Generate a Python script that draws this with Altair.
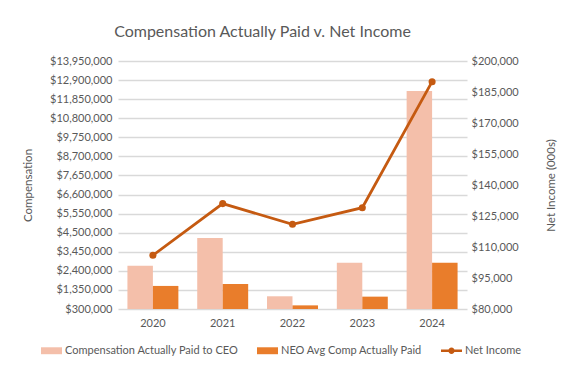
import altair as alt
import pandas as pd

years = ["2020", "2021", "2022", "2023", "2024"]
ceo_cap = [2680000, 4210000, 1000000, 2850000, 12300000]
neo_cap = [1570000, 1680000, 500000, 980000, 2850000]
net_income = [106000, 131000, 121000, 129000, 190000]

s_ceo = "Compensation Actually Paid to CEO"
s_neo = "NEO Avg Comp Actually Paid"
s_ni = "Net Income"

left_ticks = [300000 + 1050000 * i for i in range(14)]
right_ticks = [80000 + 15000 * i for i in range(9)]

bars = pd.DataFrame(
    [{"year": y, "series": s_ceo, "value": v} for y, v in zip(years, ceo_cap)]
    + [{"year": y, "series": s_neo, "value": v} for y, v in zip(years, neo_cap)]
)
line = pd.DataFrame({"year": years, "series": s_ni, "ni": net_income})

FONT = "Lato"
GRAY = "#595959"
color_scale = alt.Scale(domain=[s_ceo, s_neo, s_ni], range=["#F4BFAA", "#E97D2B", "#C55A11"])

shape_expr = ("datum.value === 'Net Income' ? "
              "'M-1,-0.12H1V0.12H-1Z M-0.3,0A0.3,0.3 0 1,1 0.3,0A0.3,0.3 0 1,1 -0.3,0Z' : "
              "'M-1,-0.33H1V0.33H-1Z'")

legend = alt.Legend(
    title=None, orient="none", direction="horizontal", legendX=-77, legendY=279,
    labelFont=FONT, labelFontSize=11, labelColor=GRAY, columnPadding=18, labelOffset=3,
    labelLimit=400,
    symbolSize=441, symbolStrokeWidth=0, symbolOpacity=1,
    symbolType={"expr": shape_expr},
    symbolFillColor={"expr": "scale('color', datum.value)"},
)

xenc = alt.X("year:N", scale=alt.Scale(paddingInner=0.27, paddingOuter=0.135),
             axis=alt.Axis(title=None, ticks=False, domain=False, labelAngle=0, labelFont=FONT,
                           labelFontSize=11, labelColor=GRAY, labelPadding=8))

bar_layer = alt.Chart(bars).mark_bar(clip=True).encode(
    x=xenc,
    xOffset=alt.XOffset("series:N", sort=[s_ceo, s_neo], scale=alt.Scale(paddingInner=0, paddingOuter=0)),
    y=alt.Y("value:Q", scale=alt.Scale(domain=[300000, 13950000], zero=False, nice=False),
            axis=alt.Axis(title="Compensation", values=left_ticks, format="$,.0f", ticks=False, domain=False,
                          grid=True, gridColor="#D9D9D9", gridWidth=1.3, labelFont=FONT, labelFontSize=11,
                          labelColor=GRAY, labelPadding=6, titleFont=FONT, titleFontSize=11.5,
                          titleFontWeight="normal", titleColor=GRAY, titleX=-90, titleY=124,
                          titleAngle=270, titleAlign="center", titleBaseline="middle")),
    color=alt.Color("series:N", scale=color_scale, legend=legend),
)

line_layer = alt.Chart(line).mark_line(strokeWidth=2.8, point=alt.OverlayMarkDef(size=50, filled=True)).encode(
    x=alt.X("year:N"),
    y=alt.Y("ni:Q", scale=alt.Scale(domain=[80000, 200000], zero=False, nice=False),
            axis=alt.Axis(title="Net Income (000s)", orient="right", values=right_ticks, format="$,.0f",
                          ticks=False, domain=False, grid=False, labelFont=FONT, labelFontSize=11,
                          labelColor=GRAY, labelPadding=4, titleFont=FONT, titleFontSize=11.5,
                          titleFontWeight="normal", titleColor=GRAY, titleX=84, titleY=124,
                          titleAngle=270, titleAlign="center", titleBaseline="middle")),
    color=alt.Color("series:N", scale=color_scale, legend=legend),
)

chart = alt.layer(bar_layer, line_layer).resolve_scale(y="independent").properties(
    width=349, height=248,
    autosize=alt.AutoSizeParams(type="none"),
    padding={"left": 110, "top": 53, "right": 109, "bottom": 57},
    background="white",
    title=alt.TitleParams("Compensation Actually Paid v. Net Income", font=FONT, fontSize=16,
                          fontWeight="normal", color=GRAY, anchor="middle", dx=-30, offset=15),
).configure_view(stroke=None)

chart.save("out.html", embed_options={"renderer": "svg", "actions": False})
